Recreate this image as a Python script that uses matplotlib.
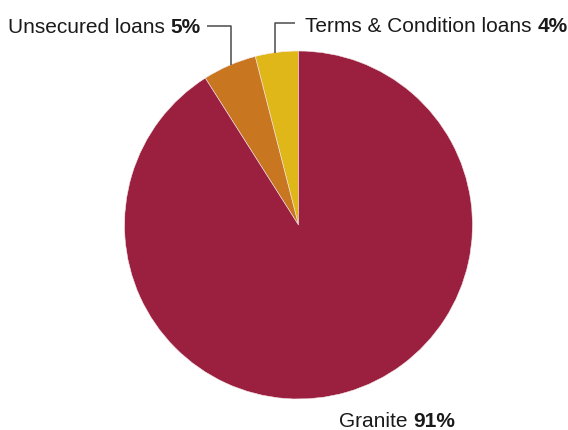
import numpy as np
import matplotlib.pyplot as plt

plt.rcParams['font.family'] = ['Liberation Sans', 'DejaVu Sans']

# loan book split, counter-clockwise from 12 o'clock
categories = ["Terms & Condition loans", "Unsecured loans", "Granite"]
shares = [4, 5, 91]
colors = ["#DFB719", "#C97621", "#9B203F"]

W, H = 568, 431
fig = plt.figure(figsize=(W / 100, H / 100), dpi=100)
ax = fig.add_axes([0, 0, 1, 1])

cx, cy, r = 298.5, H - 226, 174
ax.pie(shares, colors=colors, startangle=90, counterclock=True,
       center=(cx, cy), radius=r,
       wedgeprops=dict(linewidth=0.4, edgecolor="#f4e9e9"))
ax.set_xlim(0, W)
ax.set_ylim(0, H)
ax.set_aspect("equal")
ax.axis("off")

fs = 15
txt_color = "#1a1a1a"
line_kw = dict(color="#4a4a4a", lw=1.1, solid_capstyle="butt")


def edge_y(x):
    # top edge of the pie at a given x
    return cy + np.sqrt(r ** 2 - (x - cx) ** 2)


def label(x, y, name, pct, ha="left"):
    # plain name followed by the bold percentage
    renderer = fig.canvas.get_renderer()
    if ha == "left":
        t = ax.text(x, y, name + " ", fontsize=fs, color=txt_color, va="baseline")
        bb = t.get_window_extent(renderer)
        ax.text(bb.x1, y, f"{pct}%", fontsize=fs, fontweight="bold",
                color=txt_color, va="baseline")
    else:
        t = ax.text(x, y, f"{pct}%", fontsize=fs, fontweight="bold",
                    color=txt_color, va="baseline", ha="right")
        bb = t.get_window_extent(renderer)
        ax.text(bb.x0, y, name + " ", fontsize=fs, color=txt_color,
                va="baseline", ha="right")


# Unsecured loans, label top left
label(201, H - 33, categories[1], shares[1], ha="right")
ax.plot([207, 231, 231], [H - 27, H - 27, edge_y(231)], **line_kw)

# Terms & Condition loans, label top right
label(305, H - 32, categories[0], shares[0])
ax.plot([295, 275, 275], [H - 24, H - 24, edge_y(275)], **line_kw)

# Granite, label under the pie
label(339, H - 427, categories[2], shares[2])

fig.savefig("out.png", dpi=100)
